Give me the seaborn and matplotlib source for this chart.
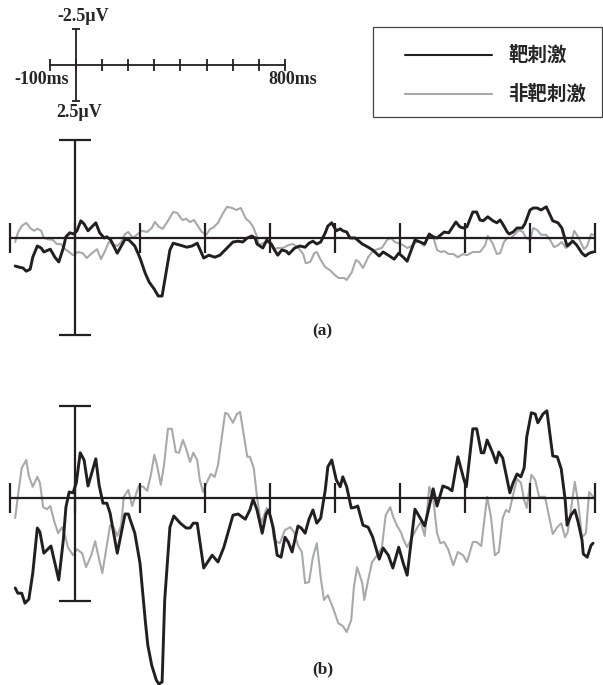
import matplotlib
matplotlib.use("Agg")
import matplotlib.pyplot as plt
from matplotlib.lines import Line2D
from matplotlib.patches import Rectangle
import seaborn as sns

# ERP waveforms, time in ms, amplitude in µV (negative plotted up)
target_b_ms = [
    -92, -88, -82, -77, -71, -65, -58, -54, -48, -37,
    -31, -25, -18, -14, -9, -3, 2, 8, 14, 20,
    32, 37, 43, 49, 54, 65, 77, 82, 92, 100,
    108, 112, 118, 125, 129, 134, 138, 146, 152, 162,
    171, 177, 182, 188, 198, 211, 220, 229, 243, 251,
    262, 269, 274, 280, 288, 294, 298, 305, 311, 317,
    323, 328, 334, 343, 348, 354, 360, 366, 372, 378,
    385, 389, 395, 402, 408, 412, 418, 425, 431, 435,
    443, 451, 458, 468, 474, 482, 489, 498, 505, 511,
    523, 531, 538, 543, 551, 557, 566, 574, 580, 589,
    598, 602, 612, 618, 625, 629, 634, 642, 648, 652,
    658, 665, 669, 674, 680, 686, 691, 695, 702, 708,
    712, 720, 726, 735, 742, 748, 754, 757, 763, 769,
    774, 780, 782, 788, 794, 797,
]
target_b_uv = [
    2.25, 2.38, 2.38, 2.63, 2.53, 1.88, 0.75, 0.85, 1.38, 1.20,
    1.63, 2.05, 1.05, 0.23, -0.15, -0.13, -0.38, -1.13, -0.95, -0.30,
    -0.98, -0.33, 0.13, 0.13, 0.38, 1.38, 0.40, 0.40, 0.88, 1.63,
    3.05, 3.68, 4.18, 4.55, 4.65, 4.60, 2.55, 0.73, 0.45, 0.63,
    0.75, 0.75, 0.63, 0.63, 1.75, 1.43, 1.60, 1.23, 0.43, 0.40,
    0.53, 0.30, 0.03, 0.30, 0.88, 0.40, 0.30, 0.75, 1.43, 1.48,
    0.98, 1.10, 1.35, 0.70, 0.75, 0.88, 0.53, 0.30, 0.63, 0.50,
    -0.20, -0.78, -0.95, -0.45, -0.28, -0.53, -0.28, 0.25, 0.23, 0.20,
    0.68, 0.73, 0.98, 1.53, 1.25, 1.43, 1.75, 1.23, 1.63, 1.93,
    0.28, 0.50, 0.70, 0.35, -0.23, 0.20, -0.30, -0.25, -0.18, -1.03,
    -0.48, -0.28, -1.73, -1.73, -1.13, -1.13, -1.45, -1.15, -0.88, -1.15,
    -1.00, -0.45, -0.13, -0.38, -0.60, -0.53, -0.75, -1.53, -2.13, -2.10,
    -1.88, -2.10, -2.18, -1.05, -1.03, -0.73, 0.03, 0.68, 0.43, 0.30,
    0.60, 1.05, 1.40, 1.48, 1.18, 1.13,
]
nontarget_b_ms = [
    -92, -88, -82, -75, -71, -65, -58, -54, -49, -43,
    -38, -32, -26, -20, -15, -11, -3, 3, 11, 17,
    25, 31, 35, 42, 48, 54, 60, 65, 71, 75,
    82, 88, 92, 98, 105, 111, 117, 122, 126, 132,
    137, 143, 149, 155, 160, 166, 171, 177, 182, 188,
    192, 197, 203, 209, 215, 220, 226, 231, 235, 243,
    249, 254, 265, 269, 275, 280, 286, 291, 295, 302,
    306, 311, 315, 323, 331, 337, 343, 349, 354, 360,
    366, 372, 378, 383, 389, 397, 405, 412, 418, 425,
    429, 434, 442, 445, 451, 457, 465, 472, 478, 485,
    489, 495, 502, 505, 511, 518, 525, 532, 538, 545,
    551, 557, 562, 568, 574, 582, 589, 597, 603, 612,
    618, 625, 634, 640, 646, 652, 658, 663, 668, 674,
    680, 686, 691, 695, 702, 708, 714, 723, 729, 735,
    742, 748, 754, 758, 765, 769, 774, 780, 786, 791,
    797,
]
nontarget_b_uv = [
    0.50, -0.03, -0.75, -0.95, -0.55, -0.28, -0.53, -0.38, 0.23, 0.28,
    0.20, 0.58, 0.88, 0.73, 0.95, 1.23, 1.43, 1.28, 1.38, 1.73,
    1.43, 1.08, 1.38, 1.88, 1.28, 0.68, 0.75, 0.95, 0.68, -0.03,
    -0.20, 0.20, 0.00, -0.30, -0.28, -0.18, -0.60, -1.08, -0.83, -0.33,
    -0.83, -1.73, -1.73, -1.15, -1.13, -1.45, -1.23, -0.90, -1.13, -0.95,
    -0.45, -0.15, -0.40, -0.60, -0.53, -0.83, -1.53, -2.13, -2.10, -1.88,
    -2.10, -2.15, -1.03, -1.03, -0.75, -0.03, 0.63, 0.43, 0.25, 0.50,
    1.03, 1.10, 1.13, 0.80, 0.73, 0.85, 1.18, 1.35, 2.13, 2.10,
    1.48, 1.13, 1.98, 2.55, 2.43, 2.75, 3.13, 3.20, 3.35, 3.05,
    2.23, 1.73, 2.13, 2.55, 2.05, 1.60, 1.43, 1.25, 0.43, 0.23,
    0.45, 0.68, 0.88, 1.03, 1.23, 1.00, 0.78, 0.60, 0.95, -0.28,
    0.00, 0.88, 1.13, 1.10, 1.28, 1.68, 1.35, 1.43, 1.60, 1.10,
    1.10, 1.20, -0.03, 0.48, 1.43, 1.35, 0.50, 0.30, 0.35, -0.08,
    -0.48, -0.38, 0.05, 0.25, -0.58, -0.45, -0.03, -0.03, 0.43, 0.90,
    0.73, 0.63, 0.98, 0.85, 0.05, -0.40, 0.10, 0.98, 0.88, -0.15,
    -0.03,
]
target_a_ms = [
    -92, -86, -80, -75, -69, -65, -58, -52, -48, -38,
    -31, -25, -18, -14, -8, -2, 3, 9, 14, 20,
    32, 38, 45, 49, 55, 65, 77, 83, 92, 100,
    108, 114, 122, 128, 134, 140, 146, 151, 162, 172,
    180, 188, 198, 206, 215, 223, 234, 243, 251, 258,
    265, 272, 277, 280, 289, 295, 302, 308, 312, 318,
    325, 329, 338, 346, 354, 360, 366, 372, 378, 385,
    389, 395, 402, 408, 412, 418, 423, 431, 442, 451,
    458, 468, 474, 482, 491, 498, 505, 511, 523, 531,
    538, 545, 551, 557, 568, 575, 586, 592, 597, 603,
    612, 618, 623, 628, 635, 643, 649, 654, 658, 665,
    668, 674, 680, 688, 692, 700, 705, 711, 717, 725,
    735, 743, 749, 757, 762, 766, 772, 780, 785, 791,
    797,
]
target_a_uv = [
    0.70, 0.73, 0.75, 0.83, 0.78, 0.48, 0.20, 0.25, 0.35, 0.28,
    0.48, 0.60, 0.25, -0.03, -0.13, -0.10, -0.18, -0.43, -0.35, -0.18,
    -0.38, -0.13, 0.00, -0.03, 0.05, 0.38, 0.03, 0.05, 0.20, 0.50,
    0.88, 1.10, 1.28, 1.45, 1.45, 0.88, 0.30, 0.13, 0.18, 0.23,
    0.20, 0.13, 0.50, 0.43, 0.48, 0.43, 0.25, 0.10, 0.08, 0.10,
    0.00, -0.05, 0.00, 0.15, 0.25, 0.05, 0.15, 0.33, 0.43, 0.30,
    0.33, 0.40, 0.25, 0.20, 0.23, 0.13, 0.08, 0.15, 0.10, -0.13,
    -0.30, -0.38, -0.18, -0.23, -0.18, -0.15, 0.00, 0.00, 0.15, 0.23,
    0.30, 0.45, 0.35, 0.43, 0.53, 0.38, 0.48, 0.58, 0.05, 0.10,
    0.15, -0.10, -0.03, 0.00, -0.15, -0.13, -0.40, -0.28, -0.25, -0.28,
    -0.65, -0.65, -0.45, -0.43, -0.53, -0.43, -0.38, -0.45, -0.35, -0.15,
    -0.10, -0.15, -0.25, -0.25, -0.35, -0.70, -0.75, -0.75, -0.70, -0.78,
    -0.43, -0.38, -0.25, 0.20, 0.13, 0.08, 0.18, 0.38, 0.45, 0.38,
    0.35,
]
nontarget_a_ms = [
    -92, -88, -82, -75, -69, -63, -58, -52, -48, -42,
    -34, -28, -22, -15, -9, -3, 5, 12, 18, 26,
    34, 40, 46, 52, 58, 65, 71, 77, 82, 89,
    95, 103, 111, 118, 123, 129, 135, 143, 151, 157,
    165, 171, 177, 183, 189, 195, 202, 208, 212, 220,
    228, 234, 242, 248, 255, 263, 269, 274, 280, 283,
    289, 295, 300, 305, 312, 320, 328, 335, 343, 346,
    351, 355, 362, 368, 372, 378, 385, 392, 400, 406,
    414, 418, 426, 432, 437, 443, 451, 457, 465, 472,
    480, 486, 492, 498, 505, 511, 518, 525, 531, 537,
    543, 551, 557, 563, 568, 575, 582, 589, 597, 603,
    612, 618, 623, 631, 635, 643, 649, 654, 660, 665,
    671, 677, 683, 689, 694, 700, 705, 711, 717, 725,
    731, 737, 743, 749, 755, 762, 768, 772, 778, 783,
    788, 794, 797,
]
nontarget_a_uv = [
    0.10, -0.13, -0.30, -0.38, -0.25, -0.18, -0.23, -0.18, 0.00, 0.03,
    0.05, 0.15, 0.15, 0.28, 0.35, 0.43, 0.35, 0.38, 0.50, 0.38,
    0.28, 0.53, 0.33, 0.10, 0.15, 0.20, 0.10, -0.10, -0.15, 0.00,
    -0.08, -0.18, -0.15, -0.25, -0.40, -0.28, -0.23, -0.43, -0.65, -0.63,
    -0.45, -0.48, -0.40, -0.45, -0.30, -0.15, -0.08, -0.23, -0.25, -0.38,
    -0.63, -0.78, -0.75, -0.70, -0.75, -0.48, -0.40, -0.28, -0.03, 0.18,
    0.13, 0.10, 0.13, 0.28, 0.25, 0.25, 0.18, 0.15, 0.23, 0.30,
    0.40, 0.63, 0.60, 0.38, 0.35, 0.55, 0.73, 0.80, 0.93, 1.00,
    1.00, 1.05, 0.85, 0.55, 0.60, 0.75, 0.48, 0.35, 0.28, 0.25,
    0.05, 0.00, 0.10, 0.13, 0.18, 0.25, 0.20, 0.10, 0.10, 0.20,
    -0.05, -0.03, 0.30, 0.35, 0.33, 0.40, 0.40, 0.48, 0.40, 0.43,
    0.35, 0.35, 0.35, 0.18, -0.05, 0.15, 0.40, 0.38, 0.10, 0.00,
    0.00, -0.10, -0.20, -0.15, 0.00, 0.05, -0.25, -0.20, -0.08, -0.08,
    0.05, 0.23, 0.18, 0.10, 0.25, 0.18, -0.18, -0.08, 0.10, 0.28,
    0.20, -0.10, -0.08,
]

tick_ms = [-100, 0, 100, 200, 300, 400, 500, 600, 700, 800]
legend_labels = ["靶刺激", "非靶刺激"]

INK = "#231f20"
GRAY = "#a7a9ac"


def draw_axis(ax, bar_top, bar_bottom, tick_half):
    """Baseline, 100 ms ticks and the vertical amplitude bar at 0 ms."""
    ax.plot([tick_ms[0], tick_ms[-1]], [0, 0], color=INK, lw=1.6, zorder=2)
    ax.vlines(tick_ms, -tick_half, tick_half, color=INK, lw=1.6, zorder=2)
    ax.vlines(0, bar_top, bar_bottom, color=INK, lw=1.6, zorder=2)


def draw_panel(ax, t_ms, t_uv, n_ms, n_uv, bar, label, ylim):
    sns.lineplot(x=n_ms, y=n_uv, ax=ax, color=GRAY, lw=1.5,
                 estimator=None, sort=False, legend=False, zorder=1)
    sns.lineplot(x=t_ms, y=t_uv, ax=ax, color=INK, lw=2.1,
                 estimator=None, sort=False, legend=False, zorder=3)
    draw_axis(ax, bar[0], bar[1], 0.38)
    ax.hlines(list(bar), -24, 24, color=INK, lw=1.6, zorder=2)
    ax.text(381, label[1], label[0], ha="center", va="center",
            fontsize=12.5, fontweight="bold")
    ax.set_xlim(-115.4, 812.3)
    ax.set_ylim(*ylim)
    ax.set_axis_off()


sns.set_theme(style="white")
plt.rcParams["font.family"] = ["Liberation Serif", "Noto Sans CJK SC"]

fig = plt.figure(figsize=(6.03, 6.85), dpi=100)

# calibration key at the top
ax0 = fig.add_axes([0, 557 / 685, 1, 128 / 685])
ax0.plot([tick_ms[0], tick_ms[-1]], [0, 0], color=INK, lw=1.3)
ax0.vlines(tick_ms, -0.42, 0.42, color=INK, lw=1.3)
ax0.vlines(0, -2.5, 2.5, color=INK, lw=1.3)
ax0.hlines([-2.5, 2.5], -15, 15, color=INK, lw=1.3)
label_kw = dict(ha="center", va="center", fontsize=13, fontweight="bold")
ax0.text(27, -3.33, "-2.5\u00b5V", **label_kw)
ax0.text(11, 3.33, "2.5\u00b5V", **label_kw)
ax0.text(-130, 1.04, "-100ms", **label_kw)
ax0.text(831, 1.04, "800ms", **label_kw)
ax0.set_xlim(-291, 2018)
ax0.set_ylim(4.375, -4.51)
ax0.set_axis_off()

ax_a = fig.add_axes([0, 340 / 685, 1, 215 / 685])
draw_panel(ax_a, target_a_ms, target_a_uv, nontarget_a_ms, nontarget_a_uv,
           (-2.45, 2.43), ("(a)", 2.33), (2.675, -2.7))

ax_b = fig.add_axes([0, 0, 1, 295 / 685])
draw_panel(ax_b, target_b_ms, target_b_uv, nontarget_b_ms, nontarget_b_uv,
           (-2.3, 2.58), ("(b)", 4.28), (4.675, -2.7))

# legend box
fig.add_artist(Rectangle((373 / 603, 568 / 685), 229 / 603, 90 / 685,
                         transform=fig.transFigure, fill=False,
                         ec="#444444", lw=0.9))
for y_px, color, text in [(55, INK, legend_labels[0]), (94, GRAY, legend_labels[1])]:
    yf = (685 - y_px) / 685
    fig.add_artist(Line2D([405 / 603, 492 / 603], [yf, yf],
                          transform=fig.transFigure, color=color, lw=1.5))
    fig.text(508 / 603, yf, text, ha="left", va="center", fontsize=14,
             fontweight="bold", family=["Noto Sans CJK SC", "DejaVu Sans"])

fig.savefig("out.png", dpi=100)
